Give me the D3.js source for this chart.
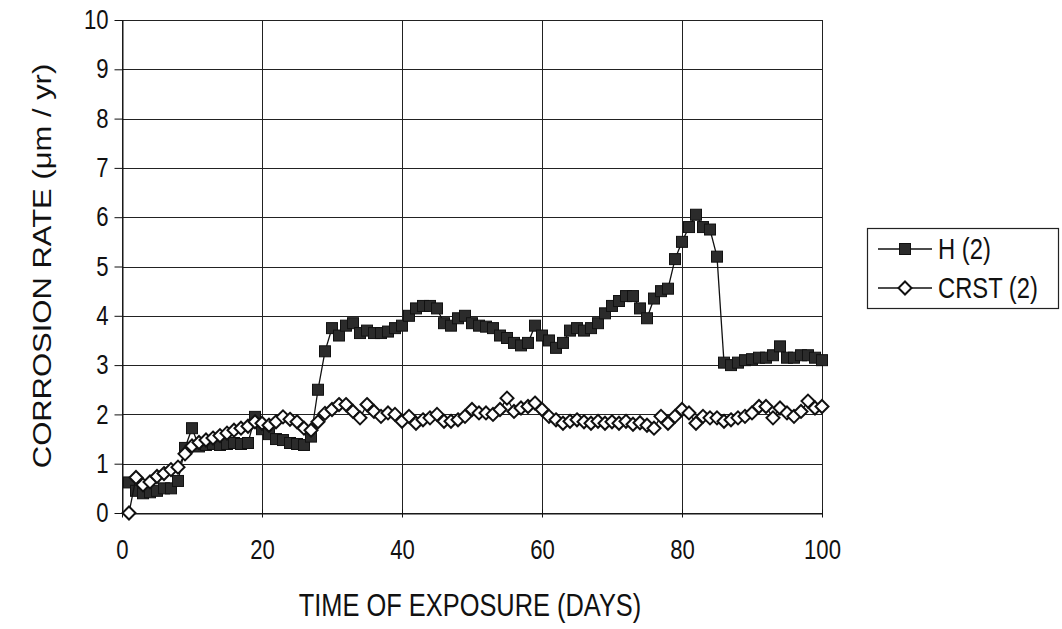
<!DOCTYPE html>
<html>
<head>
<meta charset="utf-8">
<script src="https://cdn.jsdelivr.net/npm/d3@7"></script>
<style>
  body { margin: 0; background: #fff; }
  svg { display: block; }
  text { font-family: "Liberation Sans", Arial, sans-serif; fill: #111; }
</style>
</head>
<body>
<svg id="chart" width="1062" height="629"></svg>
<script>
// Exposure days (one reading per day)
const days = d3.range(1, 101);

// Corrosion rate, series H (2), µm / yr
const hValues = [
  0.62, 0.45, 0.40, 0.42, 0.45, 0.50, 0.50, 0.65, 1.32, 1.72,
  1.35, 1.38, 1.40, 1.38, 1.40, 1.42, 1.40, 1.42, 1.95, 1.70,
  1.60, 1.50, 1.48, 1.42, 1.40, 1.38, 1.55, 2.50, 3.28, 3.75,
  3.60, 3.80, 3.85, 3.65, 3.70, 3.65, 3.65, 3.68, 3.75, 3.80,
  4.00, 4.15, 4.20, 4.20, 4.15, 3.85, 3.80, 3.95, 4.00, 3.85,
  3.80, 3.78, 3.75, 3.60, 3.55, 3.45, 3.40, 3.45, 3.80, 3.60,
  3.50, 3.35, 3.45, 3.70, 3.75, 3.70, 3.75, 3.85, 4.05, 4.20,
  4.30, 4.40, 4.40, 4.15, 3.95, 4.35, 4.50, 4.55, 5.15, 5.50,
  5.80, 6.05, 5.80, 5.75, 5.20, 3.05, 3.00, 3.05, 3.10, 3.12,
  3.15, 3.15, 3.20, 3.38, 3.15, 3.15, 3.20, 3.20, 3.15, 3.10
];

// Corrosion rate, series CRST (2), µm / yr
const crstValues = [
  0.00, 0.72, 0.57, 0.63, 0.74, 0.80, 0.88, 0.93, 1.20, 1.36,
  1.43, 1.48, 1.52, 1.57, 1.62, 1.68, 1.72, 1.76, 1.85, 1.82,
  1.78, 1.85, 1.95, 1.90, 1.85, 1.72, 1.68, 1.85, 2.02, 2.10,
  2.20, 2.20, 2.06, 1.93, 2.20, 2.06, 1.96, 2.03, 2.00, 1.86,
  1.96, 1.82, 1.89, 1.93, 2.00, 1.86, 1.86, 1.89, 1.96, 2.10,
  2.03, 2.03, 2.00, 2.10, 2.33, 2.06, 2.13, 2.16, 2.23, 2.10,
  1.96, 1.89, 1.82, 1.86, 1.89, 1.85, 1.82, 1.86, 1.82, 1.85,
  1.82, 1.86, 1.80, 1.83, 1.78, 1.72, 1.96, 1.82, 1.96, 2.10,
  2.03, 1.82, 1.96, 1.93, 1.93, 1.86, 1.89, 1.93, 1.96, 2.03,
  2.16, 2.16, 1.93, 2.13, 2.03, 1.96, 2.06, 2.27, 2.13, 2.16
];

const seriesNames = ["H (2)", "CRST (2)"];
const xTicks = [0, 20, 40, 60, 80, 100];
const yTicks = d3.range(0, 11);
const xTitle = "TIME OF EXPOSURE (DAYS)";
const yTitle = "CORROSION RATE (\u03bcm / yr)";

// text is drawn slightly condensed horizontally
const squeeze = 0.82;

const svg = d3.select("#chart");
const x = d3.scaleLinear().domain([0, 100]).range([122, 822]);
const y = d3.scaleLinear().domain([0, 10]).range([513, 20]);

// grid
const grid = svg.append("g").attr("stroke", "#222").attr("stroke-width", 1);
grid.selectAll("line.h").data(yTicks).join("line")
  .attr("class", "h")
  .attr("x1", x(0)).attr("x2", x(100))
  .attr("y1", d => Math.round(y(d)) + 0.5).attr("y2", d => Math.round(y(d)) + 0.5);
grid.selectAll("line.v").data(xTicks).join("line")
  .attr("class", "v")
  .attr("x1", d => Math.round(x(d)) + 0.5).attr("x2", d => Math.round(x(d)) + 0.5)
  .attr("y1", y(10)).attr("y2", y(0));

// y axis
const yAxis = svg.append("g")
  .attr("transform", `translate(${Math.round(x(0)) + 0.5},0)`)
  .call(d3.axisLeft(y).tickValues(yTicks).tickSize(8).tickPadding(6).tickSizeOuter(0));
yAxis.select(".domain").attr("stroke", "#111");
yAxis.selectAll(".tick line").attr("stroke", "#111");
yAxis.selectAll(".tick text")
  .attr("font-size", 27).attr("font-family", "Liberation Sans, Arial, sans-serif").attr("fill", "#111")
  .attr("transform", function () {
    const tx = +d3.select(this).attr("x");
    return `translate(${tx},0) scale(${squeeze},1) translate(${-tx},0)`;
  });

// x axis
const xAxis = svg.append("g")
  .attr("transform", `translate(0,${Math.round(y(0)) + 0.5})`)
  .call(d3.axisBottom(x).tickValues(xTicks).tickSize(4).tickPadding(22).tickSizeOuter(0));
xAxis.select(".domain").attr("stroke", "#111");
xAxis.selectAll(".tick line").attr("stroke", "#111").attr("y1", -4);
xAxis.selectAll(".tick text")
  .attr("font-size", 27).attr("font-family", "Liberation Sans, Arial, sans-serif").attr("fill", "#111")
  .attr("transform", `scale(${squeeze},1)`);

// titles
svg.append("text")
  .attr("transform", `translate(470,616) scale(${squeeze},1)`)
  .attr("text-anchor", "middle")
  .attr("font-size", 31)
  .text(xTitle);
svg.append("text")
  .attr("transform", `translate(51,266) scale(${squeeze},1) rotate(-90)`)
  .attr("text-anchor", "middle")
  .attr("font-size", 31)
  .text(yTitle);

// series
const line = d3.line().x(d => x(d[0])).y(d => y(d[1]));
const hData = days.map((d, i) => [d, hValues[i]]);
const cData = days.map((d, i) => [d, crstValues[i]]);

const sq = 11;
svg.append("path").datum(hData)
  .attr("d", line).attr("fill", "none").attr("stroke", "#111").attr("stroke-width", 1.3);
svg.append("g").selectAll("rect").data(hData).join("rect")
  .attr("x", d => x(d[0]) - sq / 2).attr("y", d => y(d[1]) - sq / 2)
  .attr("width", sq).attr("height", sq)
  .attr("fill", "#2b2b2b").attr("stroke", "#111").attr("stroke-width", 1);

const dm = 6.5;
const diamond = (cx, cy) => `M${cx},${cy - dm}L${cx + dm},${cy}L${cx},${cy + dm}L${cx - dm},${cy}Z`;
svg.append("path").datum(cData)
  .attr("d", line).attr("fill", "none").attr("stroke", "#111").attr("stroke-width", 1.3);
svg.append("g").selectAll("path").data(cData).join("path")
  .attr("d", d => diamond(x(d[0]), y(d[1])))
  .attr("fill", "#fff").attr("stroke", "#111").attr("stroke-width", 2);

// legend
const lg = svg.append("g").attr("transform", "translate(867,228)");
lg.append("rect").attr("x", 0.5).attr("y", 0.5).attr("width", 191).attr("height", 80)
  .attr("fill", "#fff").attr("stroke", "#222").attr("stroke-width", 1.2);
const rows = [21, 60];
lg.append("line").attr("x1", 11).attr("x2", 65).attr("y1", rows[0]).attr("y2", rows[0]).attr("stroke", "#111").attr("stroke-width", 1.3);
lg.append("rect").attr("x", 38 - sq / 2).attr("y", rows[0] - sq / 2).attr("width", sq).attr("height", sq).attr("fill", "#2b2b2b").attr("stroke", "#111");
lg.append("line").attr("x1", 11).attr("x2", 65).attr("y1", rows[1]).attr("y2", rows[1]).attr("stroke", "#111").attr("stroke-width", 1.3);
lg.append("path").attr("d", diamond(38, rows[1])).attr("fill", "#fff").attr("stroke", "#111").attr("stroke-width", 2);
lg.selectAll("text.lab").data(seriesNames).join("text")
  .attr("class", "lab")
  .attr("transform", (d, i) => `translate(71,${rows[i]}) scale(${squeeze},1)`)
  .attr("dy", "0.36em")
  .attr("font-size", 29)
  .text(d => d);
</script>
</body>
</html>
